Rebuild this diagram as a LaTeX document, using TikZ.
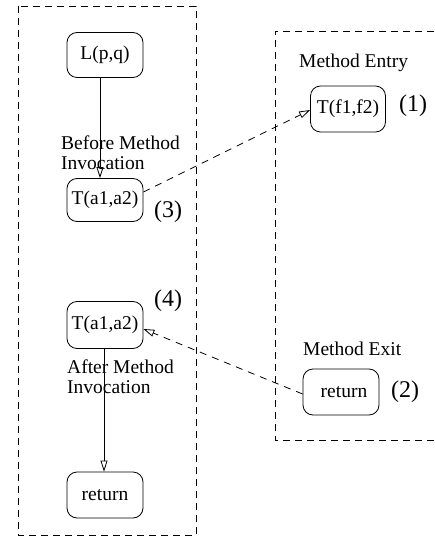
\documentclass[tikz,border=0pt]{standalone}
\usepackage{fontspec}
\setmainfont{Liberation Serif}
\usetikzlibrary{arrows.meta}
\begin{document}
\begin{tikzpicture}[x=1pt,y=-1pt,
  every node/.style={font=\fontsize{19.5}{20}\selectfont},
  statebox/.style={draw, rounded corners=10pt, minimum width=76pt, minimum height=45pt, inner sep=0pt, line width=0.8pt},
  numlabel/.style={font=\fontsize{24}{26}\selectfont},
  region/.style={draw, dash pattern=on 7pt off 5pt, line width=0.9pt},
  flow/.style={draw, line width=0.8pt, -{Triangle[open, length=11pt, width=7pt]}},
  call/.style={flow, dash pattern=on 7pt off 6pt}]
\useasboundingbox (0,0) rectangle (434,537);
% regions
\draw[region] (18,6) rectangle (196,535);
\draw[region] (434,31) -- (275,31) -- (275,440) -- (434,440);
% nodes
\node[statebox] (L) at (105,55) {L(p,q)};
\node[statebox, minimum height=43pt] (T1) at (105,200) {T(a1,a2)};
\node[statebox, minimum height=47pt] (T2) at (105,325) {T(a1,a2)\hspace{4pt}};
\node[statebox, minimum height=46pt] (R1) at (105,495) {return};
\node[statebox, minimum width=75pt, minimum height=46pt] (F) at (348,109) {T(f1,f2)};
\node[statebox, minimum height=46pt] (R2) at (341,392) {\hspace{6pt}return};
% labels
\node[numlabel] (n1) at (413,106) {(1)};
\node[numlabel] (n2) at (405,392) {(2)};
\node[numlabel] (n3) at (168,212) {(3)};
\node[numlabel] (n4) at (168,301) {(4)};
\node[anchor=west, align=left, inner sep=0pt] (bm) at (61,153) {Before Method\\ Invocation};
\node[anchor=west, align=left, inner sep=0pt] (am) at (67,377) {After Method\\ Invocation};
\node[anchor=west, inner sep=0pt] (me) at (299,63) {Method Entry};
\node[anchor=west, inner sep=0pt] (mx) at (303,349) {Method Exit};
% connectors
\draw[flow] (L.south -| 100,0) -- (T1.north -| 100,0);
\draw[flow] (T2.south -| 104,0) -- (R1.north -| 104,0);
\draw[call] (T1.east |- 0,192) -- (F.west |- 0,110);
\draw[call] (R2.west |- 0,394) -- (T2.east |- 0,329);
\end{tikzpicture}
\end{document}
